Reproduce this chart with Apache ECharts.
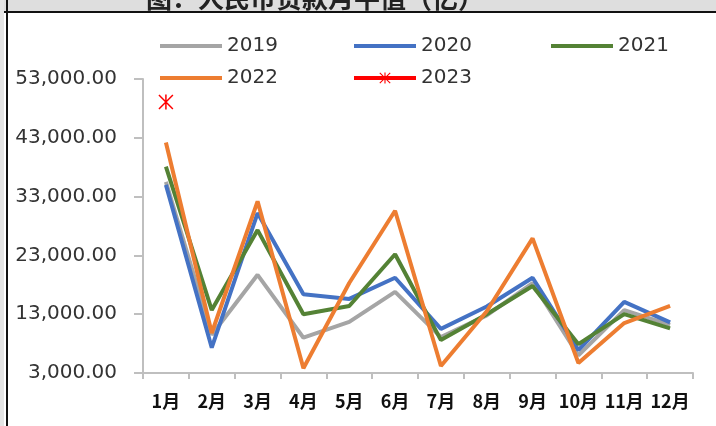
<!DOCTYPE html>
<html>
<head>
<meta charset="utf-8">
<script src="https://cdn.jsdelivr.net/npm/echarts@6/dist/echarts.min.js"></script>
<style>
  html, body { margin: 0; padding: 0; background: #fff; }
  #chart { width: 716px; height: 426px; }
</style>
</head>
<body>
<div id="chart"></div>
<script>
  // month categories
  var months = ['1月', '2月', '3月', '4月', '5月', '6月', '7月', '8月', '9月', '10月', '11月', '12月'];
  var years = ['2019', '2020', '2021', '2022', '2023'];
  var d2019 = [35500, 9500, 19700, 9000, 11700, 16800, 9100, 12800, 18300, 6000, 13700, 11200];
  var d2020 = [35000, 7300, 30200, 16400, 15600, 19200, 10500, 14300, 19200, 6900, 15100, 11600];
  var d2021 = [38100, 13700, 27300, 13000, 14400, 23200, 8600, 13000, 17800, 7900, 13000, 10600];
  var d2022 = [42200, 9800, 32200, 3800, 18300, 30600, 4200, 13500, 25900, 4700, 11500, 14400];
  var d2023 = [49100];
  var yTicks = [3000, 13000, 23000, 33000, 43000, 53000];

  var colors = ['#A5A5A5', '#4472C4', '#548235', '#ED7D31', '#FF0000'];
  var star = 'path://M9,0 H11 V20 H9 Z M1.4,0 L20,18.6 L18.6,20 L0,1.4 Z M18.6,0 L20,1.4 L1.4,20 L0,18.6 Z';

  var chart = echarts.init(document.getElementById('chart'));

  function lineSeries(name, data, color) {
    return {
      name: name,
      type: 'line',
      data: data,
      symbol: 'none',
      lineStyle: { color: color, width: 4 },
      itemStyle: { color: color }
    };
  }

  // legend boxes, 3 per row
  var legendPos = [[153, 31], [347, 31], [544, 31], [153, 63], [347, 63]];
  var legends = years.map(function (y, i) {
    var lg = {
      data: [y],
      left: legendPos[i][0],
      top: legendPos[i][1],
      itemWidth: 62,
      itemHeight: 14,
      lineStyle: { width: 4 },
      textStyle: { fontFamily: 'DejaVu Sans', fontSize: 20, color: '#333' }
    };
    if (i < 4) lg.itemStyle = { opacity: 0 };
    return lg;
  });

  var options = {
    animation: false,
    backgroundColor: '#fff',
    legend: legends,
    grid: { left: 143, right: 23, top: 79, bottom: 53 },
    xAxis: {
      type: 'category',
      data: months,
      boundaryGap: true,
      axisLine: { lineStyle: { color: '#BFBFBF', width: 2 } },
      axisTick: { show: true, length: 6, lineStyle: { color: '#BFBFBF', width: 2 } },
      axisLabel: {
        margin: 19,
        interval: 0,
        fontFamily: 'Noto Sans CJK SC',
        fontWeight: 'bold',
        fontSize: 18,
        color: '#111'
      }
    },
    yAxis: {
      type: 'value',
      min: yTicks[0],
      max: yTicks[yTicks.length - 1],
      interval: 10000,
      splitLine: { show: false },
      axisLine: { show: true, lineStyle: { color: '#BFBFBF', width: 2 } },
      axisTick: { show: true, length: 9, lineStyle: { color: '#BFBFBF', width: 2 } },
      axisLabel: {
        margin: 26,
        fontFamily: 'DejaVu Sans',
        fontSize: 20,
        color: '#333',
        formatter: function (v) {
          return v.toLocaleString('en-US', { minimumFractionDigits: 2, maximumFractionDigits: 2 });
        }
      }
    },
    series: [
      lineSeries('2019', d2019, colors[0]),
      lineSeries('2020', d2020, colors[1]),
      lineSeries('2021', d2021, colors[2]),
      lineSeries('2022', d2022, colors[3]),
      {
        name: '2023',
        type: 'line',
        data: d2023,
        symbol: star,
        symbolSize: 15,
        lineStyle: { color: colors[4], width: 4 },
        itemStyle: { color: colors[4] }
      }
    ],
    graphic: [
      { type: 'rect', shape: { x: 0, y: 0, width: 716, height: 11 }, style: { fill: '#dedede' }, z: 10 },
      {
        type: 'text', left: 146, top: -15, z: 11,
        style: { text: '图：人民币贷款月平值（亿）', fontFamily: 'Noto Sans CJK SC', fontWeight: 'bold', fontSize: 26, fill: '#222' }
      },
      { type: 'rect', shape: { x: 0, y: 11, width: 716, height: 2 }, style: { fill: '#111' }, z: 12 },
      { type: 'rect', shape: { x: 0, y: 0, width: 4, height: 426 }, style: { fill: '#e4e4e4' }, z: 12 },
      { type: 'rect', shape: { x: 6, y: 0, width: 2, height: 426 }, style: { fill: '#111' }, z: 12 }
    ]
  };
  chart.setOption(options);
</script>
</body>
</html>
